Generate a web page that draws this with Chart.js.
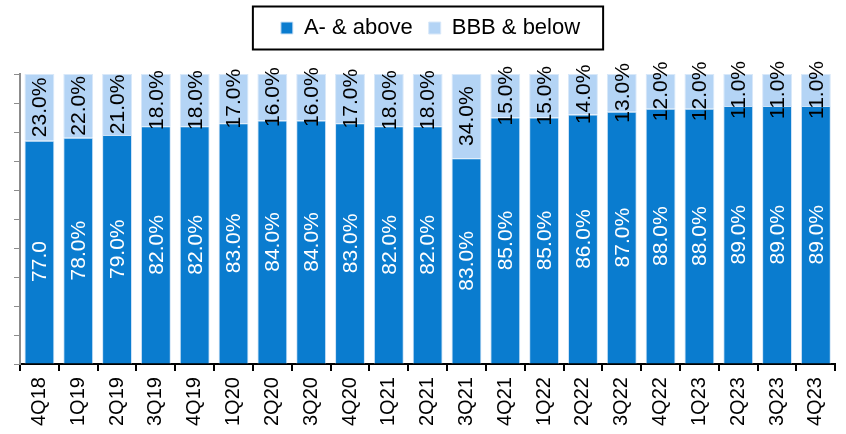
<!DOCTYPE html>
<html>
<head>
<meta charset="utf-8">
<script src="https://cdn.jsdelivr.net/npm/chart.js@4.4.1/dist/chart.umd.min.js"></script>
<style>
  html, body { margin: 0; padding: 0; background: #fff; }
  #wrap { width: 846px; height: 434px; }
</style>
</head>
<body>
<div id="wrap"><canvas id="ratingChart" width="846" height="434"></canvas></div>
<script>
const quarters = ['4Q18', '1Q19', '2Q19', '3Q19', '4Q19', '1Q20', '2Q20', '3Q20', '4Q20', '1Q21', '2Q21',
    '3Q21', '4Q21', '1Q22', '2Q22', '3Q22', '4Q22', '1Q23', '2Q23', '3Q23', '4Q23'];
const aboveA = [77, 78, 79, 82, 82, 83, 84, 84, 83, 82, 82, 83, 85, 85, 86, 87, 88, 88, 89, 89, 89];
const belowBBB = [23, 22, 21, 18, 18, 17, 16, 16, 17, 18, 18, 34, 15, 15, 14, 13, 12, 12, 11, 11, 11];

// labels as printed on the bars (first one lost its % sign in the original)
const aboveText = aboveA.map(v => v.toFixed(1) + '%');
aboveText[0] = '77.0';
const belowText = belowBBB.map(v => v.toFixed(1) + '%');

// bars are drawn as 100% stacked
const aboveShare = aboveA.map((v, i) => v / (v + belowBBB[i]) * 100);
const belowShare = belowBBB.map((v, i) => v / (aboveA[i] + v) * 100);

const FONT = "'Liberation Sans', Arial, sans-serif";

const barLabels = {
    id: 'barLabels',
    afterDatasetsDraw(chart) {
        const ctx = chart.ctx;
        const texts = [aboveText, belowText];
        const colors = ['#ffffff', '#000000'];
        ctx.save();
        ctx.font = '21px ' + FONT;
        chart.data.datasets.forEach((ds, di) => {
            const meta = chart.getDatasetMeta(di);
            meta.data.forEach((bar, i) => {
                const t = texts[di][i];
                const full = t.endsWith('%') ? t : t + '%';
                const w = ctx.measureText(full).width;
                const cy = (bar.y + bar.base) / 2;
                ctx.save();
                ctx.translate(bar.x, cy);
                ctx.rotate(-Math.PI / 2);
                ctx.fillStyle = colors[di];
                ctx.textAlign = 'left';
                ctx.textBaseline = 'middle';
                ctx.fillText(t, -w / 2, 1);
                ctx.restore();
            });
        });
        ctx.restore();
    }
};

// extra room under the legend, a small shift right, and a frame round it
const legendBox = {
    id: 'legendBox',
    beforeInit(chart) {
        const fit = chart.legend.fit;
        chart.legend.fit = function () {
            fit.call(this);
            this.height += 25;
        };
    },
    afterLayout(chart) {
        chart.legend.left += 3;
        chart.legend.right += 3;
    },
    afterDraw(chart) {
        const boxes = chart.legend.legendHitBoxes;
        if (!boxes || !boxes.length) return;
        const first = boxes[0];
        const last = boxes[boxes.length - 1];
        const cy = first.top + first.height / 2;
        const ctx = chart.ctx;
        ctx.save();
        ctx.strokeStyle = '#000';
        ctx.lineWidth = 2;
        ctx.strokeRect(first.left - 28, cy - 21.5, (last.left + last.width) - first.left + 51, 43);
        ctx.restore();
    }
};

new Chart(document.getElementById('ratingChart'), {
    type: 'bar',
    data: {
        labels: quarters,
        datasets: [{
            label: 'A- & above',
            data: aboveShare,
            backgroundColor: '#0a7ccf',
            borderColor: '#cfe3f7',
            borderWidth: 1,
            barPercentage: 0.77,
            categoryPercentage: 1
        }, {
            label: 'BBB & below',
            data: belowShare,
            backgroundColor: '#b4d4f5',
            borderColor: '#d8e8f9',
            borderWidth: 1,
            barPercentage: 0.77,
            categoryPercentage: 1
        }]
    },
    options: {
        responsive: false,
        animation: false,
        layout: { padding: { left: 14, right: 5, top: 1, bottom: 2 } },
        plugins: {
            tooltip: { enabled: false },
            legend: {
                position: 'top',
                labels: {
                    boxWidth: 12,
                    boxHeight: 12,
                    padding: 16,
                    color: '#000',
                    font: { family: FONT, size: 22 }
                }
            }
        },
        scales: {
            x: {
                stacked: true,
                grid: { offset: true, drawOnChartArea: false, tickLength: 7, color: '#000', lineWidth: 2 },
                border: { color: '#000', width: 2 },
                ticks: {
                    color: '#000',
                    font: { family: FONT, size: 20 },
                    maxRotation: 90,
                    minRotation: 90,
                    padding: 6
                }
            },
            y: {
                stacked: true,
                min: 0,
                max: 100,
                grid: { drawOnChartArea: false, tickLength: 6, color: '#8c8c8c', lineWidth: 1 },
                border: { color: '#8c8c8c', width: 2 },
                ticks: { display: false, stepSize: 10 }
            }
        }
    },
    plugins: [barLabels, legendBox]
});
</script>
</body>
</html>
